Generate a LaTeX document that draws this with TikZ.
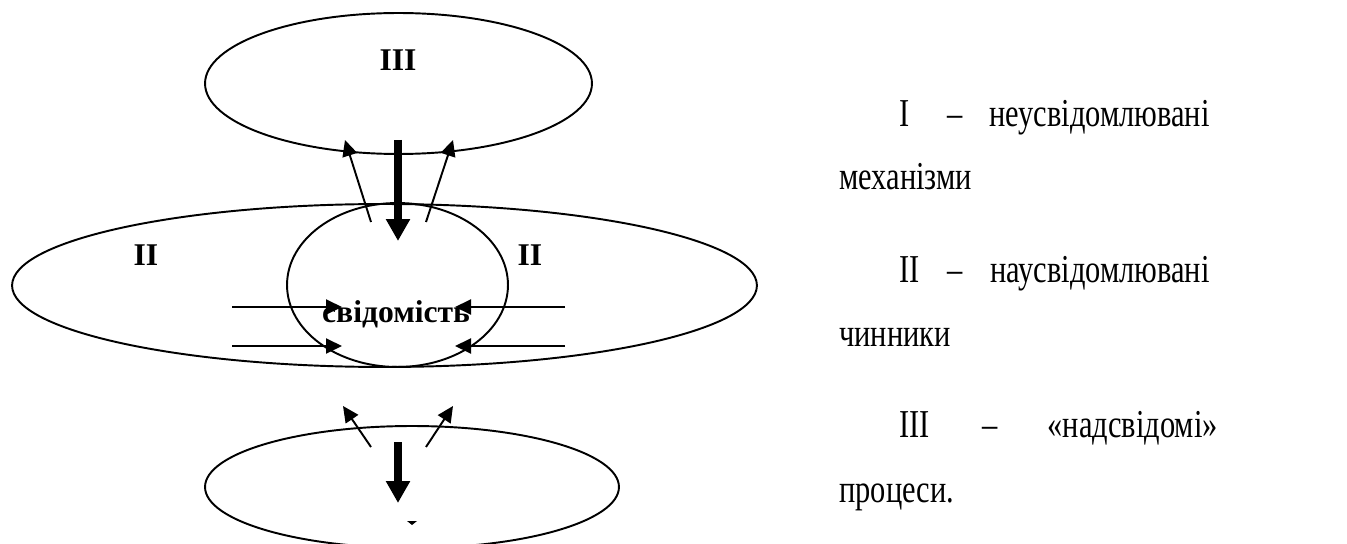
\documentclass[tikz,border=0pt]{standalone}
\usepackage{fontspec}
\setmainfont{Liberation Serif}
\newfontfamily\narrowserif[FakeStretch=0.77]{Liberation Serif}
\usetikzlibrary{arrows.meta,shapes.geometric}

\tikzset{
    oval/.style={draw, ellipse, line width=1.1pt, inner sep=0pt},
    lbl/.style={inner sep=0pt, font=\fontsize{18}{21}\selectfont\bfseries},
    legendtext/.style={inner sep=0pt, font=\narrowserif\fontsize{22.5}{27}\selectfont},
    thinarrow/.style={line width=1.1pt, -{Triangle[length=0.32cm, width=0.3cm]}},
    boldarrow/.style={line width=4pt, -{Triangle[length=0.44cm, width=0.46cm]}}
}

\begin{document}
\begin{tikzpicture}[x=0.02cm, y=-0.02cm]
            \useasboundingbox (0, 0) rectangle (1347, 544);
            \clip (0, 0) rectangle (1347, 544);

            % ellipses
            \node[oval, minimum width=7.74cm, minimum height=2.82cm] (upper) at (398.5, 83.5) {};
            \node[oval, minimum width=14.9cm, minimum height=3.26cm] (middle) at (384.5, 285.5) {};
            \node[oval, minimum width=4.42cm, minimum height=3.28cm] (core) at (397.5, 285) {};
            \node[oval, minimum width=8.28cm, minimum height=2.44cm] (lower) at (412, 487) {};

            \node[lbl] (lblIII) at (398, 60) {III};
            \node[lbl] (lblIIl) at (146, 255) {II};
            \node[lbl] (lblIIr) at (530, 255) {II};
            \node[lbl, anchor=base] (aware) at (396, 322) {свідомість};
            \fill (407, 521) -- (417, 521) -- (412, 525) -- cycle;

            % arrows between upper and middle
            \coordinate (ul-a) at (371, 222);
            \coordinate (ul-b) at (345, 140);
            \coordinate (ur-a) at (426, 222);
            \coordinate (ur-b) at (453, 140);
            \coordinate (ud-a) at (398, 140);
            \coordinate (ud-b) at (398, 241);
            \draw[thinarrow] (ul-a) -- (ul-b);
            \draw[thinarrow] (ur-a) -- (ur-b);
            \draw[boldarrow] (ud-a) -- (ud-b);

            % arrows into the core
            \coordinate (hl1) at (232, 307);
            \coordinate (hl2) at (232, 346);
            \coordinate (hr1) at (565, 307);
            \coordinate (hr2) at (565, 346);
            \coordinate (cl1) at (342, 307);
            \coordinate (cl2) at (342, 346);
            \coordinate (cr1) at (455, 307);
            \coordinate (cr2) at (455, 346);
            \draw[thinarrow] (hl1) -- (cl1);
            \draw[thinarrow] (hl2) -- (cl2);
            \draw[thinarrow] (hr1) -- (cr1);
            \draw[thinarrow] (hr2) -- (cr2);

            % arrows between middle and lower
            \coordinate (ll-a) at (371, 447);
            \coordinate (ll-b) at (343, 406);
            \coordinate (lr-a) at (426, 447);
            \coordinate (lr-b) at (453, 406);
            \coordinate (ld-a) at (398, 442);
            \coordinate (ld-b) at (398, 503);
            \draw[thinarrow] (ll-a) -- (ll-b);
            \draw[thinarrow] (lr-a) -- (lr-b);
            \draw[boldarrow] (ld-a) -- (ld-b);

            % legend
            \node[legendtext, anchor=base west] (numI) at (899, 127) {I};
            \node[legendtext, anchor=base] (dashI) at (955, 127) {–};
            \node[legendtext, anchor=base east] (wordI) at (1210, 127) {неусвідомлювані};
            \node[legendtext, anchor=base west] (lineI) at (839, 190) {механізми};

            \node[legendtext, anchor=base west] (numII) at (899, 282) {II};
            \node[legendtext, anchor=base] (dashII) at (955, 282) {–};
            \node[legendtext, anchor=base east] (wordII) at (1210, 282) {наусвідомлювані};
            \node[legendtext, anchor=base west] (lineII) at (839, 346) {чинники};

            \node[legendtext, anchor=base west] (numIII) at (899, 437) {III};
            \node[legendtext, anchor=base] (dashIII) at (990, 437) {–};
            \node[legendtext, anchor=base east] (wordIII) at (1218, 437) {«надсвідомі»};
            \node[legendtext, anchor=base west] (lineIII) at (839, 502) {процеси.};
\end{tikzpicture}
\end{document}
